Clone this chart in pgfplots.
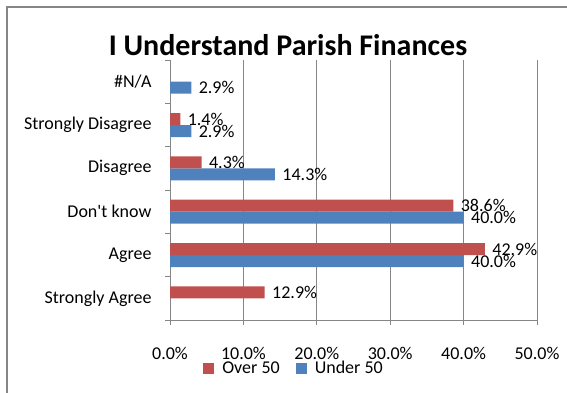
\documentclass[border=0pt]{standalone}
\usepackage{pgfplots}
\pgfplotsset{compat=1.18}
\usepackage{fontspec}
\setmainfont{Carlito}
\definecolor{ovr}{RGB}{192,80,77}
\definecolor{und}{RGB}{79,129,189}
\definecolor{gridc}{RGB}{134,134,134}
\begin{document}
\begin{tikzpicture}[x=1pt,y=1pt]
\useasboundingbox (0,0) rectangle (567,393);
\draw[gridc,line width=1.5pt] (7,0) -- (7,386) -- (567,386);
\node[anchor=base,font=\fontsize{30}{33}\selectfont\bfseries] at (288,337) {I Understand Parish Finances};
\begin{axis}[
  at={(170pt,73pt)}, anchor=south west,
  scale only axis, width=367pt, height=260pt,
  xbar=0pt, bar width=12pt,
  xmin=0, xmax=50, ymin=-0.5, ymax=5.5,
  axis x line*=bottom, axis y line*=left,
  axis line style={gridc, line width=0.8pt},
  xtick={0,10,20,30,40,50},
  xticklabels={0.0\%,10.0\%,20.0\%,30.0\%,40.0\%,50.0\%},
  xmajorgrids, grid style={gridc, line width=0.8pt},
  tick align=outside, major tick length=5pt,
  tick style={gridc, line width=0.8pt},
  xticklabel style={font=\fontsize{18}{20}\selectfont, yshift=-19pt},
  ytick={0,1,2,3,4,5},
  yticklabels={Strongly Agree,Agree,Don\textquotesingle t know,Disagree,Strongly Disagree,\#N/A},
  yticklabel style={font=\fontsize{18}{20}\selectfont, xshift=-10pt},
  y tick style={draw=none},
  extra y ticks={-0.5,0.5,1.5,2.5,3.5,4.5,5.5},
  extra y tick labels={},
  extra y tick style={y tick style={draw=gridc, line width=0.8pt}, major tick length=5pt, grid=none},
  nodes near coords={\pgfmathprintnumber[fixed,fixed zerofill,precision=1,assume math mode=true]{\pgfplotspointmeta}\%},
  nodes near coords align={horizontal},
  every node near coord/.append style={font=\fontsize{18}{20}\selectfont, anchor=west, xshift=4pt, text=black},
  legend style={at={(0.338,-0.185)}, anchor=center, draw=none, fill=none, legend columns=2,
    font=\fontsize{18}{20}\selectfont, column sep=6pt,
    /tikz/every even column/.append style={column sep=14pt}},
  legend image code/.code={\fill[#1] (0pt,-5.5pt) rectangle (11pt,5.5pt);},
  reverse legend,
]
\addplot[fill=und, draw=none] coordinates {(40.0,1) (40.0,2) (14.3,3) (2.9,4) (2.9,5)};
\addlegendentry{Under 50}
\addplot[fill=ovr, draw=none] coordinates {(12.9,0) (42.9,1) (38.6,2) (4.3,3) (1.4,4)};
\addlegendentry{Over 50}
\end{axis}
\end{tikzpicture}
\end{document}
